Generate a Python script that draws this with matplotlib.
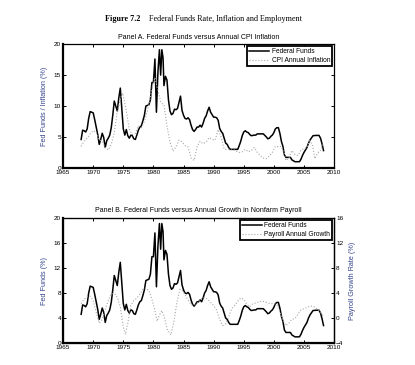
import matplotlib
matplotlib.use("Agg")
from matplotlib import pyplot as plt

# Fed funds rate (%)
ff_years = [1968.0, 1968.25, 1968.5, 1968.75, 1969.0, 1969.25, 1969.5, 1969.75,
            1970.0, 1970.25, 1970.5, 1970.75, 1971.0, 1971.25, 1971.5, 1971.75,
            1972.0, 1972.25, 1972.5, 1972.75, 1973.0, 1973.25, 1973.5, 1973.75,
            1974.0, 1974.25, 1974.5, 1974.75, 1975.0, 1975.25, 1975.5, 1975.75,
            1976.0, 1976.25, 1976.5, 1976.75, 1977.0, 1977.25, 1977.5, 1977.75,
            1978.0, 1978.25, 1978.5, 1978.75, 1979.0, 1979.25, 1979.5, 1979.75,
            1980.0, 1980.25, 1980.5, 1980.75, 1981.0, 1981.2, 1981.4, 1981.6,
            1981.75, 1982.0, 1982.25, 1982.5, 1982.75, 1983.0, 1983.25, 1983.5,
            1983.75, 1984.0, 1984.25, 1984.5, 1984.75, 1985.0, 1985.25, 1985.5,
            1985.75, 1986.0, 1986.25, 1986.5, 1986.75, 1987.0, 1987.25, 1987.5,
            1987.75, 1988.0, 1988.25, 1988.5, 1988.75, 1989.0, 1989.25, 1989.5,
            1989.75, 1990.0, 1990.25, 1990.5, 1990.75, 1991.0, 1991.25, 1991.5,
            1991.75, 1992.0, 1992.25, 1992.5, 1992.75, 1993.0, 1993.5, 1994.0,
            1994.25, 1994.5, 1994.75, 1995.0, 1995.25, 1995.5, 1995.75, 1996.0,
            1996.25, 1996.75, 1997.0, 1997.25, 1997.75, 1998.25, 1998.75, 1999.0,
            1999.25, 1999.5, 1999.75, 2000.0, 2000.25, 2000.5, 2000.75, 2001.0,
            2001.25, 2001.5, 2001.75, 2002.0, 2002.5, 2002.75, 2003.0, 2003.5,
            2004.0, 2004.25, 2004.5, 2004.75, 2005.0, 2005.5, 2005.75, 2006.0,
            2006.5, 2007.0, 2007.5, 2007.75, 2008.0, 2008.25]
ff_rate = [4.6, 6.1, 6.0, 5.8, 6.3, 8.0, 9.1, 9.0,
           8.9, 7.8, 6.6, 5.4, 3.8, 4.6, 5.6, 4.9,
           3.3, 4.4, 4.8, 5.3, 6.5, 8.5, 10.8, 10.0,
           9.2, 11.3, 12.9, 9.5, 6.3, 5.3, 6.2, 5.2,
           4.8, 5.3, 5.2, 4.7, 4.6, 5.3, 6.1, 6.6,
           6.8, 7.6, 8.5, 10.0, 10.1, 10.2, 11.0, 13.8,
           13.8, 17.6, 9.0, 15.5, 19.1, 15.0, 19.1, 17.8,
           13.3, 14.8, 14.2, 11.0, 9.2, 8.6, 8.8, 9.5,
           9.4, 9.6, 10.6, 11.6, 9.3, 8.5, 8.0, 7.9,
           8.1, 7.8, 6.9, 6.2, 5.9, 6.2, 6.6, 6.6,
           6.9, 6.6, 7.2, 8.0, 8.4, 9.2, 9.8, 9.0,
           8.6, 8.2, 8.2, 8.1, 7.7, 6.4, 5.9, 5.6,
           4.8, 4.0, 3.8, 3.3, 3.0, 3.0, 3.0, 3.0,
           3.6, 4.3, 5.2, 5.8, 6.0, 5.8, 5.7, 5.4,
           5.2, 5.3, 5.3, 5.5, 5.5, 5.5, 5.0, 4.7,
           4.8, 5.1, 5.3, 5.7, 6.3, 6.5, 6.5, 5.6,
           4.3, 3.5, 2.1, 1.7, 1.7, 1.7, 1.3, 1.0,
           1.0, 1.0, 1.4, 2.0, 2.5, 3.3, 4.0, 4.5,
           5.2, 5.25, 5.25, 4.8, 3.9, 2.8]

# CPI annual inflation (%)
cpi_years = [1968.0, 1968.5, 1969.0, 1969.5, 1970.0, 1970.5, 1971.0, 1971.5,
             1972.0, 1972.5, 1973.0, 1973.5, 1974.0, 1974.5, 1974.9, 1975.5,
             1976.0, 1976.5, 1977.0, 1977.5, 1978.0, 1978.5, 1979.0, 1979.5,
             1980.0, 1980.25, 1980.75, 1981.25, 1981.75, 1982.25, 1982.75, 1983.25,
             1983.75, 1984.25, 1984.75, 1985.25, 1985.75, 1986.25, 1986.75, 1987.25,
             1987.75, 1988.25, 1988.75, 1989.25, 1989.75, 1990.25, 1990.75, 1991.25,
             1991.75, 1992.25, 1992.75, 1993.25, 1993.75, 1994.25, 1994.75, 1995.25,
             1995.75, 1996.25, 1996.75, 1997.25, 1997.75, 1998.25, 1998.75, 1999.25,
             1999.75, 2000.25, 2000.75, 2001.25, 2001.75, 2002.0, 2002.5, 2003.0,
             2003.5, 2004.0, 2004.5, 2005.0, 2005.5, 2005.9, 2006.4, 2006.8,
             2007.25, 2007.75, 2008.25]
cpi_rate = [3.5, 4.3, 4.8, 5.5, 6.0, 5.8, 4.5, 4.3,
            3.3, 2.9, 3.8, 5.7, 9.0, 11.0, 12.1, 9.2,
            6.2, 5.4, 5.6, 6.8, 6.5, 7.5, 9.2, 11.5,
            13.8, 14.6, 12.5, 10.5, 10.2, 6.8, 4.2, 2.7,
            3.4, 4.5, 4.2, 3.6, 3.4, 1.6, 1.2, 3.4,
            4.3, 3.9, 4.2, 4.9, 4.6, 4.5, 6.2, 5.0,
            3.0, 3.0, 3.1, 3.0, 2.7, 2.5, 2.6, 3.0,
            2.6, 2.8, 3.3, 2.5, 2.0, 1.6, 1.5, 1.9,
            2.5, 3.5, 3.4, 3.5, 2.2, 1.2, 1.6, 2.8,
            2.2, 2.0, 2.9, 3.1, 3.3, 4.4, 3.8, 1.5,
            2.4, 2.8, 4.0]

# Payroll annual growth (%), right axis in panel B
pay_years = [1968.0, 1968.5, 1969.0, 1969.5, 1970.0, 1970.5, 1971.0, 1971.5,
             1972.0, 1972.5, 1973.0, 1973.5, 1974.0, 1974.5, 1975.0, 1975.35,
             1975.75, 1976.25, 1976.75, 1977.25, 1977.75, 1978.25, 1978.75, 1979.25,
             1979.75, 1980.25, 1980.6, 1981.0, 1981.4, 1981.8, 1982.3, 1982.9,
             1983.4, 1983.9, 1984.4, 1984.9, 1985.5, 1986.0, 1986.5, 1987.0,
             1987.5, 1988.0, 1988.5, 1989.0, 1989.5, 1990.0, 1990.5, 1991.0,
             1991.5, 1992.0, 1992.5, 1993.0, 1993.5, 1994.0, 1994.5, 1995.0,
             1995.5, 1996.0, 1996.5, 1997.0, 1997.5, 1998.0, 1998.5, 1999.0,
             1999.5, 2000.0, 2000.5, 2001.0, 2001.5, 2002.0, 2002.5, 2003.0,
             2003.5, 2004.0, 2004.5, 2005.0, 2005.5, 2006.0, 2006.5, 2007.0,
             2007.5, 2008.0, 2008.25]
pay_growth = [2.3, 3.0, 3.4, 3.5, 2.8, 0.9, -0.8, -0.2,
              1.4, 2.8, 3.8, 4.0, 3.3, 1.8, -1.5, -2.6,
              -0.8, 2.0, 2.8, 3.2, 3.8, 4.6, 4.8, 4.4,
              3.0, 1.2, -0.5, 0.5, 1.2, 0.2, -1.8, -2.7,
              -0.6, 2.5, 4.6, 4.3, 3.3, 2.5, 2.0, 2.2,
              2.6, 3.1, 3.3, 3.0, 2.5, 2.0, 1.3, -0.2,
              -1.2, -0.9, 0.2, 1.5, 2.0, 2.7, 3.2, 3.0,
              2.2, 1.8, 2.3, 2.4, 2.6, 2.7, 2.6, 2.4,
              2.3, 2.3, 2.2, 1.0, -0.3, -1.2, -0.8, -0.2,
              -0.1, 0.6, 1.3, 1.5, 1.7, 1.9, 1.9, 1.6,
              1.2, 0.6, 0.2]

ylabel_color = "#34448c"
plt.rcParams["font.family"] = ["Liberation Sans", "DejaVu Sans"]
plt.rcParams["xtick.direction"] = "in"
plt.rcParams["ytick.direction"] = "in"

fig = plt.figure(figsize=(4.15, 3.65), dpi=100)
fig.patch.set_facecolor("white")

# Titulo general (serif, como en el libro)
fig.text(0.253, 0.948, "Figure 7.2", fontsize=5.9, fontweight="bold",
         family="Liberation Serif", ha="left", va="center")
fig.text(0.358, 0.948, "Federal Funds Rate, Inflation and Employment", fontsize=5.9,
         family="Liberation Serif", ha="left", va="center")


def estilo_ejes(ax):
    for lado in ["left", "bottom"]:
        ax.spines[lado].set_linewidth(1.6)
    for lado in ["top", "right"]:
        ax.spines[lado].set_linewidth(0.9)
    ax.set_xlim(1965, 2010)
    ax.set_xticks(range(1965, 2011, 5))
    ax.tick_params(labelsize=4.6, length=2.5, width=0.7, pad=1.5)
    ax.tick_params(axis="x", top=True)


# Panel A
ax1 = fig.add_axes([0.152, 0.540, 0.653, 0.339])
ax1.plot(ff_years, ff_rate, color="black", lw=1.1, label="Federal Funds")
ax1.plot(cpi_years, cpi_rate, color="#a8a8a8", lw=0.8, ls=":", label="CPI Annual Inflation")
ax1.set_ylim(0, 20)
ax1.set_yticks([0, 5, 10, 15, 20])
ax1.tick_params(axis="y", right=True)
estilo_ejes(ax1)
ax1.set_ylabel("Fed Funds / Inflation (%)", fontsize=5.2, color=ylabel_color, labelpad=4)
ax1.set_title("Panel A. Federal Funds versus Annual CPI Inflation", fontsize=5.0, pad=4)
leg = ax1.legend(loc="upper right", fontsize=4.8, fancybox=False, framealpha=1,
                 edgecolor="black", borderpad=0.3, handlelength=3.0, handletextpad=0.4,
                 labelspacing=0.3, borderaxespad=0.3)
leg.get_frame().set_linewidth(1.3)

# Panel B
ax2 = fig.add_axes([0.152, 0.060, 0.653, 0.343])
l1, = ax2.plot(ff_years, ff_rate, color="black", lw=1.1, label="Federal Funds")
ax2.set_ylim(0, 20)
ax2.set_yticks([0, 4, 8, 12, 16, 20])
estilo_ejes(ax2)
ax2.set_ylabel("Fed Funds (%)", fontsize=5.2, color=ylabel_color, labelpad=4)
ax2.set_title("Panel B. Federal Funds versus Annual Growth in Nonfarm Payroll", fontsize=5.0, pad=4)

ax3 = ax2.twinx()
l2, = ax3.plot(pay_years, pay_growth, color="#a8a8a8", lw=0.8, ls=":", label="Payroll Annual Growth")
ax3.set_ylim(-4, 16)
ax3.set_yticks([-4, 0, 4, 8, 12, 16])
ax3.tick_params(labelsize=4.6, length=2.5, width=0.7, pad=1.5)
ax3.spines["right"].set_linewidth(0.9)
ax3.set_ylabel("Payroll Growth Rate (%)", fontsize=5.2, color=ylabel_color, labelpad=4)
leg2 = ax3.legend([l1, l2], ["Federal Funds", "Payroll Annual Growth"], loc="upper right",
                  fontsize=4.8, fancybox=False, framealpha=1, edgecolor="black",
                  borderpad=0.3, handlelength=3.0, handletextpad=0.4,
                  labelspacing=0.3, borderaxespad=0.3)
leg2.get_frame().set_linewidth(1.3)

fig.savefig("out.png", dpi=100)
plt.close(fig)
